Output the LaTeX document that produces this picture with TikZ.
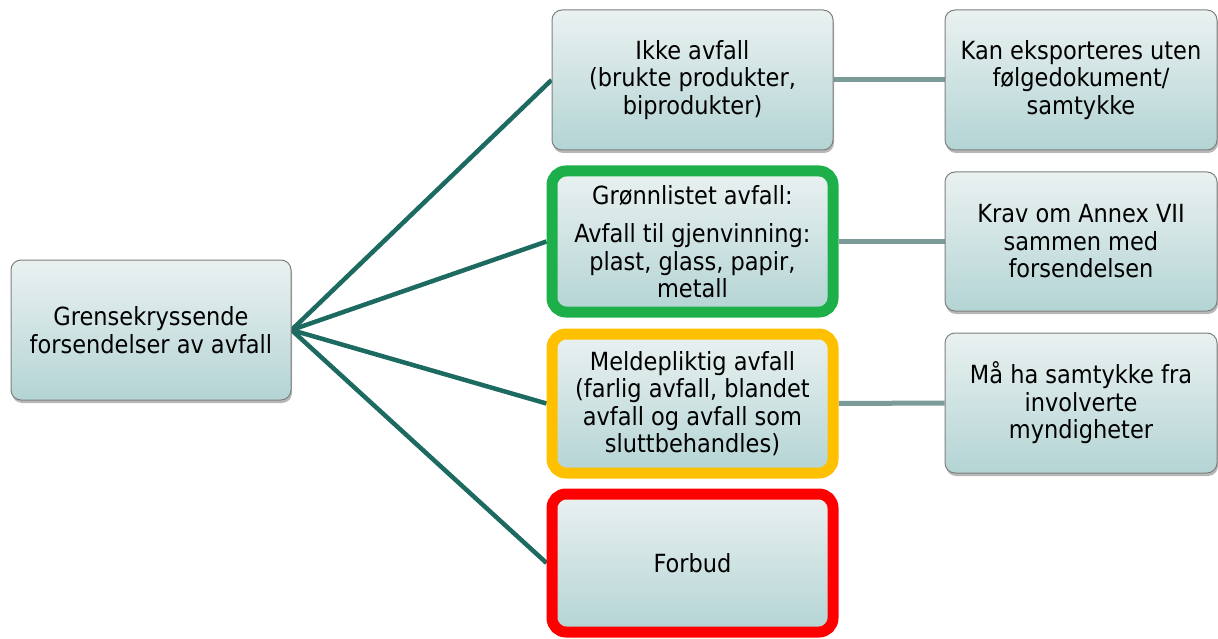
\documentclass[tikz,border=0pt]{standalone}
\usepackage{fontspec}
\setmainfont{DejaVu Sans Condensed}
\usetikzlibrary{shadows,backgrounds}
\definecolor{boxtop}{HTML}{EAF1F1}
\definecolor{boxbot}{HTML}{B4D4D4}
\definecolor{boxline}{HTML}{7F7F7F}
\definecolor{tealline}{HTML}{1D6A61}
\definecolor{grayline}{HTML}{7A9B97}
\definecolor{greenb}{HTML}{1DB04A}
\definecolor{yellowb}{HTML}{FFC000}
\definecolor{redb}{HTML}{FF0000}
\tikzset{
  box/.style={rectangle, rounded corners=10pt, draw=boxline, line width=1pt,
    top color=boxtop, bottom color=boxbot, align=center, inner sep=2pt,
    font=\fontsize{25}{27.5}\selectfont, text=black,
    drop shadow={shadow xshift=1pt, shadow yshift=-3pt, opacity=0.4, fill=black!70}},
  midbox/.style={box, minimum width=281pt},
  rightbox/.style={box, minimum width=272pt, minimum height=140pt},
  colorframe/.style={line width=11pt, draw=#1, rounded corners=14pt},
  mainlink/.style={draw=tealline, line width=4.5pt},
  sidelink/.style={draw=grayline, line width=5pt},
}
\begin{document}
\begin{tikzpicture}[x=1pt,y=-1pt]
\useasboundingbox (0,0) rectangle (1218,639);
\node[box, minimum width=280pt, minimum height=140pt] (src) at (151,330)
  {Grensekryssende\\forsendelser av avfall};
\node[midbox, minimum height=140pt] (n1) at (692.5,80)
  {Ikke avfall\\(brukte produkter,\\biprodukter)};
\node[midbox, minimum height=141pt, colorframe=greenb] (n2) at (692.5,241.5)
  {Grønnlistet avfall:\\[11pt]Avfall til gjenvinning:\\plast, glass, papir,\\metall};
\node[midbox, minimum height=139pt, colorframe=yellowb] (n3) at (692.5,403.5)
  {Meldepliktig avfall\\(farlig avfall, blandet\\avfall og avfall som\\sluttbehandles)};
\node[midbox, minimum height=138pt, colorframe=redb] (n4) at (692.5,563)
  {Forbud};
\node[rightbox] (r1) at (1081,80)
  {Kan eksporteres uten\\følgedokument/\\samtykke};
\node[rightbox, minimum height=139pt] (r2) at (1081,241.5)
  {Krav om Annex VII\\sammen med\\forsendelsen};
\node[rightbox] (r3) at (1081,403)
  {Må ha samtykke fra\\involverte\\myndigheter};
\begin{scope}[on background layer]
\draw[mainlink] (src.east) -- (n1.west);
\draw[mainlink] (src.east) -- (n2.west);
\draw[mainlink] (src.east) -- (n3.west);
\draw[mainlink] (src.east) -- (n4.west);
\draw[sidelink] (n1.east) -- (r1.west);
\draw[sidelink] (n2.east) -- (r2.west);
\draw[sidelink] (n3.east) -- (r3.west);
\end{scope}
\end{tikzpicture}
\end{document}
